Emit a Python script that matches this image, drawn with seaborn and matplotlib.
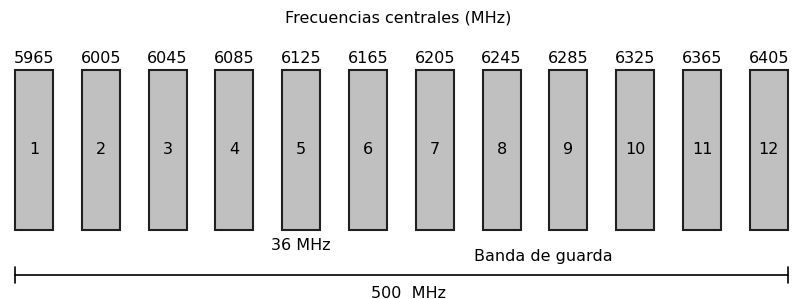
import pandas as pd
import seaborn as sns
import matplotlib.pyplot as plt

# channel plan data
channels = [1, 2, 3, 4, 5, 6, 7, 8, 9, 10, 11, 12]
center_freqs = [5965, 6005, 6045, 6085, 6125, 6165, 6205, 6245, 6285, 6325, 6365, 6405]
bar_heights = [160] * 12

title_text = "Frecuencias centrales (MHz)"
bw_label = "36 MHz"
guard_label = "Banda de guarda"
span_label = "500  MHz"

df = pd.DataFrame({"canal": [str(c) for c in channels], "altura": bar_heights})

sns.set_style("white")
plt.rcParams["font.family"] = ["DejaVu Sans"]
plt.rcParams["text.color"] = "black"

fig = plt.figure(figsize=(7.94, 2.99), dpi=100)
ax = fig.add_axes([0, 0, 1, 1])

sns.barplot(data=df, x="canal", y="altura", order=df["canal"], color="#c0c0c0",
            width=0.57, edgecolor="#202020", linewidth=1.5, saturation=1, ax=ax)

fs = 11.5
cont = ax.containers[0]
ax.bar_label(cont, labels=[str(c) for c in channels], label_type="center",
             fontsize=fs, color="black")
ax.bar_label(cont, labels=[str(f) for f in center_freqs], label_type="edge",
             padding=3, fontsize=fs, color="black")

ax.set_xlim(-0.509, 11.377)
ax.set_ylim(-69, 230)
ax.axis("off")

ax.text(5.45, 212, title_text, ha="center", va="center", fontsize=fs, color="black")
ax.text(3.99, -15, bw_label, ha="center", va="center", fontsize=fs, color="black")
ax.text(7.62, -27, guard_label, ha="center", va="center", fontsize=fs, color="black")
ax.text(5.6, -63, span_label, ha="center", va="center", fontsize=fs, color="black")

half = 0.285
ax.annotate("", xy=(-half, -45), xytext=(11 + half, -45),
            arrowprops=dict(arrowstyle="|-|", lw=1.2, color="black",
                            shrinkA=0, shrinkB=0, mutation_scale=6))

fig.savefig("out.png", dpi=100)
